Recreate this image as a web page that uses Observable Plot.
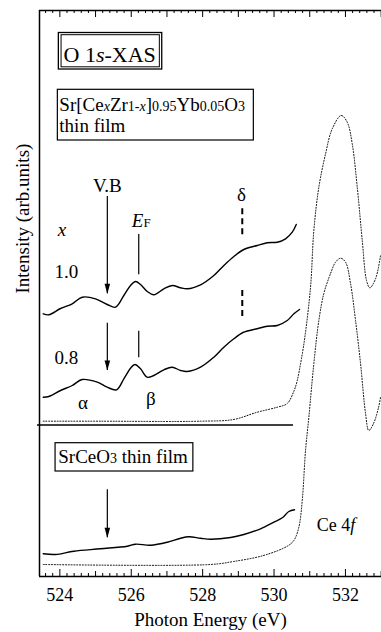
<!DOCTYPE html>
<html>
<head>
<meta charset="utf-8">
<script src="https://cdn.jsdelivr.net/npm/d3@7"></script>
<script src="https://cdn.jsdelivr.net/npm/@observablehq/plot@0.6"></script>
<style>
  html, body { margin: 0; padding: 0; background: #fff; }
  svg { display: block; }
  svg text { font-family: "Liberation Serif", "Times New Roman", serif !important; }
</style>
</head>
<body>
<div id="chart"></div>
<script>
// ---- Data (photon energy in eV, intensity in arbitrary units) ----
// x = 1.0 film, pre-edge region (solid)
const e10 = [523.535,523.692,524.02,524.347,524.627,525.0,525.328,525.56,525.793,525.98,526.12,526.26,526.448,526.633,526.913,527.148,527.381,527.569,527.941,528.314,528.594,528.874,529.154,529.529,529.81,530.09,530.322,530.51,530.622];
const i10 = [262.7,261.7,268,272.7,279.3,277.7,272,269.3,281,291,295,292,285,281.7,287.7,291,288.7,287.7,291.7,301,311,320,327,331,333.7,334.3,337.7,344.3,352];
// x = 0.8 film, pre-edge region (solid)
const e08 = [523.535,523.692,524.02,524.347,524.627,525.048,525.328,525.588,525.793,525.98,526.1,526.26,526.448,526.633,526.913,527.148,527.381,527.569,527.941,528.314,528.594,528.874,529.154,529.529,529.81,530.09,530.37,530.555,530.714];
const i08 = [179.3,180,186,191,197,194.3,189.3,186.7,197.7,208.3,212,207.7,199.3,201,206.7,209.3,206,205,209.3,219.3,229.3,237.7,244.3,247.7,250.3,251,256,262.7,267];
// film, full spectrum (dotted)
const eFilm = [523.535,525.14,527.941,528.866,529.529,530.09,530.37,530.555,530.65,530.742,530.85,531.022,531.115,531.255,531.443,531.63,531.882,532.05,532.19,532.331,532.471,532.591,532.683,532.843,532.983];
const iFilm = [155.3,155.3,155.3,157,164.3,169.3,173,185.3,196,212.7,236,289.3,346,389.3,422.7,447.7,461,454.3,432.7,389.3,336,296,288.7,297.7,321];
// SrCeO3 thin film, pre-edge (solid)
const eSc = [523.535,523.88,524.392,525.14,525.888,526.12,526.541,527.008,527.381,527.613,527.941,528.221,528.782,529.154,529.622,529.994,530.23,530.415,530.574];
const iSc = [22.7,22,25.3,27.7,30.3,32.3,31.3,34.3,38.3,39.7,38.3,37.3,39,42,47.7,54.3,58.7,65,66.7];
// SrCeO3 thin film, full spectrum (dotted)
const eScFull = [523.535,528.221,528.866,529.706,530.37,530.555,530.695,530.79,530.882,530.975,531.115,531.255,531.395,531.583,531.723,531.863,532.003,532.143,532.283,532.423,532.563,532.655,532.787,532.927,532.983];
const iScFull = [12,12,15,21,30.3,36,49.3,76,126,159.3,213,256,283,303,314.3,318.3,314.3,293,256,213,163,146,153,169,179.3];

// tick labels
const majorTicks = [524, 526, 528, 530, 532];

// annotation markers
const arrowX = [525.33, 525.33, 525.33];
const arrowTop = [380, 253.3, 86.7];
const arrowTip = [282.7, 206, 38.7];
const efX = [526.21, 526.21];
const efTop = [342, 245.3];
const efBottom = [301.7, 218.7];
const deltaX = [529.11, 529.11];
const deltaTop = [367.7, 286];
const deltaBottom = [338.7, 258.7];

// simple labels
const labels = [
  {t: "V.B", x: 525.33, y: 384.3, it: false},
  {t: "δ", x: 529.09, y: 375.5, it: false},
  {t: "x", x: 524.06, y: 341, it: true},
  {t: "1.0", x: 524.18, y: 298.3, it: false},
  {t: "0.8", x: 524.18, y: 212.7, it: false},
  {t: "α", x: 524.65, y: 168, it: false},
  {t: "β", x: 526.55, y: 172, it: false}
];

const SERIF = "Liberation Serif";

// ---- build tables ----
const toPts = (E, I) => E.map((e, k) => ({e, i: I[k]}));
const s10 = toPts(e10, i10), s08 = toPts(e08, i08), sFilm = toPts(eFilm, iFilm);
const sSc = toPts(eSc, iSc), sScFull = toPts(eScFull, iScFull);
const arrows = arrowX.map((x, k) => ({x, y1: arrowTop[k], y2: arrowTip[k]}));
const efLines = efX.map((x, k) => ({x, y1: efTop[k], y2: efBottom[k]}));
const dLines = deltaX.map((x, k) => ({x, y1: deltaTop[k], y2: deltaBottom[k]}));
const minor = d3.range(2618, 2666).map(k => k / 5);
const isInt = v => Math.abs(v - Math.round(v)) < 1e-6;
const ticksEven = minor.filter(v => isInt(v) && Math.round(v) % 2 === 0);
const ticksOdd = minor.filter(v => isInt(v) && Math.round(v) % 2 !== 0);
const ticksSmall = minor.filter(v => !isInt(v));
const ticksInt = minor.filter(isInt);

const headSymbol = {
  draw(ctx) { ctx.moveTo(0, 0); ctx.lineTo(-2.8, -10); ctx.lineTo(2.8, -10); ctx.closePath(); }
};

const FH = 566; // frame height in px
const chart = Plot.plot({
  width: 381, height: 632,
  marginLeft: 39, marginRight: 0, marginTop: 10, marginBottom: 56,
  style: {fontFamily: SERIF, background: "white", color: "black"},
  x: {domain: [523.43, 533.01], axis: null},
  y: {domain: [0, 566], axis: null},
  marks: [
    // frame
    Plot.ruleX([523.43], {stroke: "black", strokeWidth: 1.5}),
    Plot.ruleY([566], {stroke: "black", strokeWidth: 1.5}),
    Plot.ruleY([0], {stroke: "black", strokeWidth: 1.5}),
    // bottom ticks (inward)
    Plot.ruleX(ticksSmall, {stroke: "black", insetTop: FH - 3}),
    Plot.ruleX(ticksOdd, {stroke: "black", insetTop: FH - 5}),
    Plot.ruleX(ticksEven, {stroke: "black", insetTop: FH - 7}),
    // top ticks (inward)
    Plot.ruleX(ticksSmall, {stroke: "black", insetBottom: FH - 3}),
    Plot.ruleX(ticksInt, {stroke: "black", insetBottom: FH - 7}),
    Plot.axisX(majorTicks, {anchor: "bottom", tickSize: 0, tickPadding: 12, fontSize: 18, fontFamily: SERIF, tickFormat: d => String(d), label: null}),
    // separator
    Plot.ruleY([151.5], {x1: 523.375, x2: 530.546, stroke: "black", strokeWidth: 1.3}),
    // dotted full spectra
    Plot.line(sFilm, {x: "e", y: "i", curve: "catmull-rom", stroke: "black", strokeWidth: 1, strokeDasharray: "1,1.8"}),
    Plot.line(sScFull, {x: "e", y: "i", curve: "catmull-rom", stroke: "black", strokeWidth: 1, strokeDasharray: "1,1.8"}),
    // solid pre-edge spectra
    Plot.line(s10, {x: "e", y: "i", curve: "catmull-rom", stroke: "black", strokeWidth: 1.4}),
    Plot.line(s08, {x: "e", y: "i", curve: "catmull-rom", stroke: "black", strokeWidth: 1.4}),
    Plot.line(sSc, {x: "e", y: "i", curve: "catmull-rom", stroke: "black", strokeWidth: 1.4}),
    // arrows
    Plot.ruleX(arrows, {x: "x", y1: "y1", y2: "y2", stroke: "black", strokeWidth: 1.2}),
    Plot.dot(arrows, {x: "x", y: "y2", symbol: headSymbol, fill: "black", stroke: null}),
    // EF lines, delta dashes
    Plot.ruleX(efLines, {x: "x", y1: "y1", y2: "y2", stroke: "black", strokeWidth: 1.2}),
    Plot.ruleX(dLines, {x: "x", y1: "y1", y2: "y2", stroke: "black", strokeWidth: 2, strokeDasharray: "6,4"}),
    // boxes
    Plot.rect([{x1: 523.972, x2: 526.868, y1: 507, y2: 543.5}], {x1: "x1", x2: "x2", y1: "y1", y2: "y2", fill: "none", stroke: "black", strokeWidth: 1.3}),
    Plot.rect([{x1: 524.048, x2: 526.801, y1: 509.2, y2: 541.3}], {x1: "x1", x2: "x2", y1: "y1", y2: "y2", fill: "none", stroke: "black", strokeWidth: 1}),
    Plot.rect([{x1: 523.944, x2: 529.434, y1: 436, y2: 486.7}], {x1: "x1", x2: "x2", y1: "y1", y2: "y2", fill: "none", stroke: "black", strokeWidth: 1.2}),
    Plot.rect([{x1: 523.88, x2: 527.74, y1: 105, y2: 133.3}], {x1: "x1", x2: "x2", y1: "y1", y2: "y2", fill: "none", stroke: "black", strokeWidth: 1.2}),
    // labels
    Plot.text(labels.filter(d => !d.it), {x: "x", y: "y", text: "t", fontSize: 19, fontFamily: SERIF, lineAnchor: "bottom", textAnchor: "middle", fill: "black"}),
    Plot.text(labels.filter(d => d.it), {x: "x", y: "y", text: "t", fontSize: 19, fontFamily: SERIF, fontStyle: "italic", lineAnchor: "bottom", textAnchor: "middle", fill: "black"}),
    Plot.text(["Intensity (arb.units)"], {frameAnchor: "left", dx: -17, rotate: -90, fontSize: 19, fontFamily: SERIF, fill: "black"}),
    Plot.text(["Photon Energy (eV)"], {frameAnchor: "bottom", dy: 49, lineAnchor: "bottom", fontSize: 19, fontFamily: SERIF, fill: "black"})
  ]
});

// rich text (mixed sizes / italics) placed through the chart's scales
const X = chart.scale("x"), Y = chart.scale("y");
function rich(xv, yv, parts, anchor) {
  const t = d3.select(chart).append("text")
    .attr("x", X.apply(xv)).attr("y", Y.apply(yv))
    .attr("text-anchor", anchor || "start")
    .attr("font-family", SERIF).attr("fill", "black");
  parts.forEach(p => {
    const s = t.append("tspan").text(p[0]).attr("font-size", p[1]);
    if (p[2]) s.attr("font-style", "italic");
  });
}
rich(525.41, 514, [["O 1", 22], ["s", 22, true], ["-XAS", 22]], "middle");
rich(524.0, 465, [["Sr[Ce", 19], ["x", 14, true], ["Zr", 19], ["1-", 14], ["x", 14, true], ["]", 19], ["0.95", 14], ["Yb", 19], ["0.05", 14], ["O", 19], ["3", 14]]);
rich(524.0, 444.3, [["thin film", 19]]);
rich(523.97, 112.7, [["SrCeO", 19], ["3", 14], [" thin film", 19]]);
rich(531.21, 45.3, [["Ce 4", 18], ["f", 18, true]]);
rich(526.03, 349.3, [["E", 19, true], ["F", 13]]);

document.getElementById("chart").appendChild(chart);
</script>
</body>
</html>
